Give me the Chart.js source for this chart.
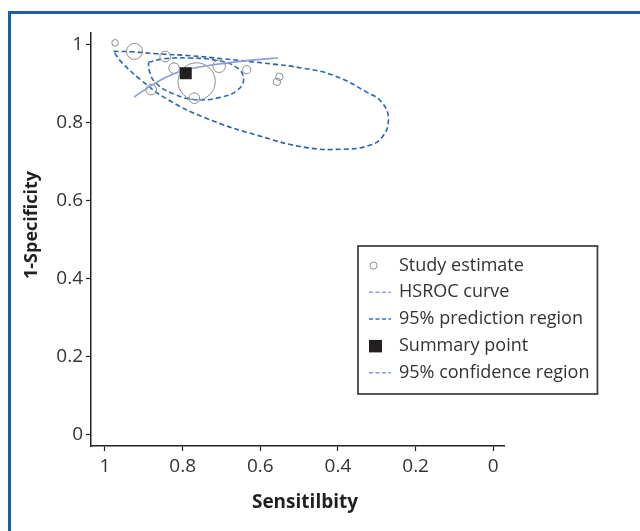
<!DOCTYPE html>
<html><head><meta charset="utf-8">
<script src="https://cdn.jsdelivr.net/npm/chart.js@4.4.1/dist/chart.umd.min.js"></script>
<style>html,body{margin:0;padding:0;background:#fff;}</style>
</head><body>
<canvas id="c" width="640" height="531"></canvas>
<script>
// ---- data ----
const xTickValues = [1, 0.8, 0.6, 0.4, 0.2, 0];
const xTickLabels = ['1', '0.8', '0.6', '0.4', '0.2', '0'];
const yTickValues = [0, 0.2, 0.4, 0.6, 0.8, 1];
const yTickLabels = ['0', '0.2', '0.4', '0.6', '0.8', '1'];

const studySens = [0.974, 0.924, 0.845, 0.822, 0.764, 0.770, 0.706, 0.635, 0.551, 0.557, 0.881];
const studySpec = [1.005, 0.983, 0.970, 0.940, 0.906, 0.863, 0.945, 0.936, 0.918, 0.905, 0.885];
const studyWeight = [1.0, 5.9, 2.6, 2.6, 32, 2.6, 3.6, 1.5, 1.25, 1.25, 2.6];

const summarySens = [0.792];
const summarySpec = [0.927];

const hsrocSens = [0.925, 0.867, 0.824, 0.781, 0.704, 0.630, 0.554];
const hsrocSpec = [0.866, 0.904, 0.925, 0.938, 0.951, 0.960, 0.966];

const predSens = [0.978, 0.930, 0.867, 0.780, 0.695, 0.590, 0.490, 0.410, 0.325, 0.287, 0.270, 0.287, 0.325, 0.386, 0.480, 0.609, 0.738, 0.841, 0.910, 0.957, 0.978];
const predSpec = [0.983, 0.982, 0.977, 0.972, 0.964, 0.953, 0.940, 0.921, 0.878, 0.852, 0.809, 0.762, 0.740, 0.732, 0.736, 0.768, 0.811, 0.861, 0.912, 0.955, 0.983];

const confSens = [0.888, 0.850, 0.781, 0.712, 0.661, 0.643, 0.661, 0.704, 0.764, 0.824, 0.871, 0.886, 0.888];
const confSpec = [0.955, 0.964, 0.966, 0.960, 0.942, 0.912, 0.882, 0.865, 0.859, 0.874, 0.904, 0.934, 0.955];

const legendLabels = ['Study estimate', 'HSROC curve', '95% prediction region', 'Summary point', '95% confidence region'];
const xTitle = 'Sensitilbity';
const yTitle = '1-Specificity';

// ---- build ----
const pts = (xs, ys) => xs.map((x, i) => ({x: x, y: ys[i]}));
const FONT = "'Open Sans', sans-serif";
const C_PRED = '#2b63ad';
const C_CONF = '#2f68b2';
const C_HSROC = '#8e9ed8';
const C_STUDY = '#8c8c8c';

const framePlugin = {
  id: 'frame',
  afterDraw(chart) {
    const ctx = chart.ctx;
    ctx.save();
    // figure frame (top + left)
    ctx.fillStyle = '#1f5ca8';
    ctx.fillRect(8, 11, 632, 3);
    ctx.fillRect(8, 11, 3, 520);
    // axis titles
    ctx.fillStyle = '#231f20';
    ctx.textAlign = 'center';
    ctx.textBaseline = 'middle';
    ctx.font = "bold 19px " + FONT;
    ctx.fillText(xTitle, 305, 503);
    ctx.font = "bold 18px " + FONT;
    ctx.translate(32, 225);
    ctx.rotate(-Math.PI / 2);
    ctx.fillText(yTitle, 0, 0);
    ctx.restore();

    // legend
    ctx.save();
    ctx.font = "18px " + FONT;
    let maxW = 0;
    legendLabels.forEach(t => { maxW = Math.max(maxW, ctx.measureText(t).width); });
    const bx = 358, by = 246, bh = 148;
    const bw = 399 - bx + maxW + 8;
    ctx.fillStyle = '#fff';
    ctx.fillRect(bx, by, bw, bh);
    ctx.strokeStyle = '#444';
    ctx.lineWidth = 1.8;
    ctx.strokeRect(bx, by, bw, bh);
    const rows = [265.5, 292.3, 319.1, 345.9, 372.7];
    ctx.fillStyle = '#333';
    ctx.textAlign = 'left';
    ctx.textBaseline = 'middle';
    legendLabels.forEach((t, i) => ctx.fillText(t, 399, rows[i]));
    // symbols
    ctx.lineWidth = 1;
    ctx.strokeStyle = C_STUDY;
    ctx.beginPath(); ctx.arc(373.5, rows[0], 3.6, 0, Math.PI * 2); ctx.stroke();
    const dashLine = (y, color) => {
      ctx.save();
      ctx.strokeStyle = color; ctx.lineWidth = 1.5; ctx.setLineDash([4, 2.5]);
      ctx.beginPath(); ctx.moveTo(369, y); ctx.lineTo(391, y); ctx.stroke();
      ctx.restore();
    };
    dashLine(rows[1], C_HSROC);
    dashLine(rows[2], '#3b72b9');
    dashLine(rows[4], '#7f9bd3');
    ctx.fillStyle = '#231f20';
    ctx.fillRect(369, rows[3] - 6, 13, 12.5);
    ctx.restore();
  }
};

new Chart(document.getElementById('c'), {
  type: 'scatter',
  data: {
    datasets: [
      {
        label: legendLabels[3], data: pts(summarySens, summarySpec),
        pointStyle: 'rect', pointRadius: 8.5, pointBackgroundColor: '#231f20', pointBorderColor: '#231f20',
        pointBorderWidth: 0, order: 0
      },
      {
        label: legendLabels[0], data: pts(studySens, studySpec),
        pointRadius: studyWeight.map(w => 3.3 * Math.sqrt(w)),
        pointBackgroundColor: 'rgba(0,0,0,0)', pointBorderColor: C_STUDY, pointBorderWidth: 1, order: 2
      },
      {
        label: legendLabels[1], data: pts(hsrocSens, hsrocSpec), showLine: true, tension: 0.4,
        borderColor: C_HSROC, borderWidth: 1.6, pointRadius: 0, order: 1
      },
      {
        label: legendLabels[2], data: pts(predSens, predSpec), showLine: true, tension: 0.45,
        borderColor: C_PRED, borderWidth: 1.6, borderDash: [5, 3], pointRadius: 0, order: 3
      },
      {
        label: legendLabels[4], data: pts(confSens, confSpec), showLine: true, tension: 0.45,
        borderColor: C_CONF, borderWidth: 1.6, borderDash: [5, 3], pointRadius: 0, order: 3
      }
    ]
  },
  options: {
    responsive: false, animation: false,
    layout: {padding: {left: 0, top: 33, right: 136, bottom: 0}},
    plugins: {legend: {display: false}, tooltip: {enabled: false}},
    scales: {
      x: {
        type: 'linear', reverse: true, min: -0.0276, max: 1.036,
        afterBuildTicks: s => { s.ticks = xTickValues.map(v => ({value: v})); },
        afterFit: s => { s.height = 85; },
        grid: {drawOnChartArea: false, drawTicks: true, tickLength: 5, color: '#222', tickWidth: 1.2},
        border: {color: '#222', width: 1.5},
        ticks: {
          padding: 4, color: '#333', font: {family: FONT, size: 19},
          callback: (v) => xTickLabels[xTickValues.indexOf(v)], maxRotation: 0, autoSkip: false
        }
      },
      y: {
        type: 'linear', min: -0.030, max: 1.0303,
        afterBuildTicks: s => { s.ticks = yTickValues.map(v => ({value: v})); },
        afterFit: s => { s.width = 91; },
        grid: {drawOnChartArea: false, drawTicks: true, tickLength: 5, color: '#222', tickWidth: 1.2},
        border: {color: '#222', width: 1.5},
        ticks: {
          padding: 3, color: '#333', font: {family: FONT, size: 19},
          callback: (v) => yTickLabels[yTickValues.indexOf(v)], autoSkip: false
        }
      }
    }
  },
  plugins: [framePlugin]
});
</script>
</body></html>
